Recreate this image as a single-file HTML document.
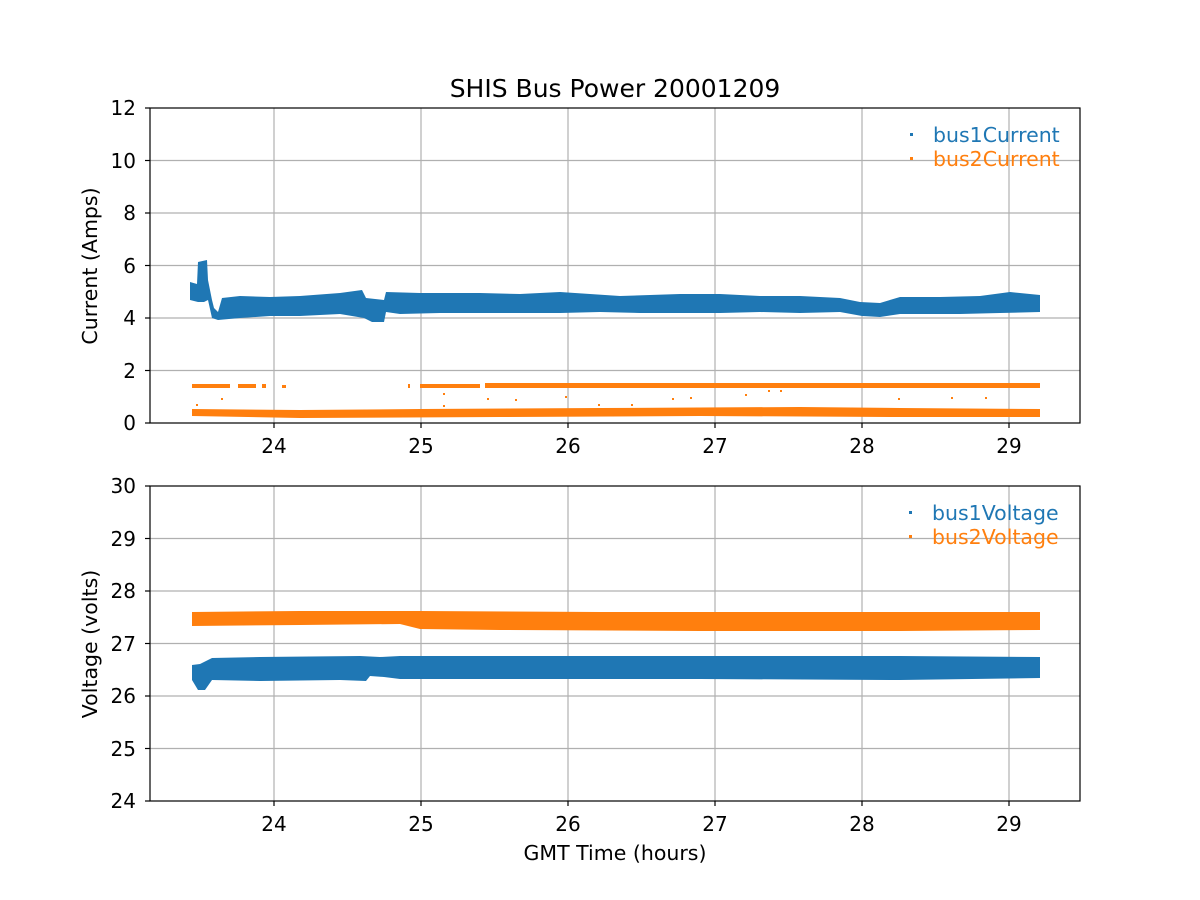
<!DOCTYPE html>
<html><head><meta charset="utf-8"><style>
body{margin:0;background:#fff}
svg{display:block;font-family:"DejaVu Sans","Liberation Sans",sans-serif}
</style></head><body>
<svg width="1200" height="900" viewBox="0 0 1200 900" xmlns="http://www.w3.org/2000/svg">
<rect width="1200" height="900" fill="#fff"/>
<text x="615" y="97" font-size="25" text-anchor="middle">SHIS Bus Power 20001209</text>
<g stroke="#b0b0b0" stroke-width="1.2">
<line x1="274" y1="108" x2="274" y2="423"/><line x1="421" y1="108" x2="421" y2="423"/><line x1="568" y1="108" x2="568" y2="423"/><line x1="715" y1="108" x2="715" y2="423"/><line x1="862" y1="108" x2="862" y2="423"/><line x1="1009" y1="108" x2="1009" y2="423"/>
<line x1="150" y1="370.5" x2="1080" y2="370.5"/><line x1="150" y1="318" x2="1080" y2="318"/><line x1="150" y1="265.5" x2="1080" y2="265.5"/><line x1="150" y1="213" x2="1080" y2="213"/><line x1="150" y1="160.5" x2="1080" y2="160.5"/>
</g>
<g fill="#1f77b4">
<polygon points="190,282 197,284 198,262 207,260 208,280 212,300 214,308 218,312 222,298 240,296 270,297 300,296 340,293 362,290 366,298 384,300 386,292 420,293 480,293 520,294 560,292 620,296 680,294 720,294 760,296 800,296 840,298 860,302 880,303 900,297 940,297 980,296 1010,292 1040,295 1040,312 1000,313 960,314 900,314 880,317 862,316 840,312 800,313 760,312 720,313 680,313 640,313 600,312 560,313 520,313 480,313 440,313 400,314 386,312 384,322 372,322 364,318 340,314 300,316 270,316 240,318 218,320 212,318 208,300 204,302 198,302 190,300"/>
</g>
<g fill="#ff7f0e">
<polygon points="192,409 300,410 420,409 600,408 800,407 900,408 1040,409 1040,417 900,417 700,416 500,417 300,418 192,416"/>
<rect x="192" y="384" width="38" height="4"/>
<rect x="238" y="384" width="18" height="4"/><rect x="262" y="384" width="4" height="4"/><rect x="282" y="385" width="4" height="3"/>
<rect x="408" y="384" width="2" height="4"/>
<rect x="420" y="384" width="60" height="4"/>
<rect x="485" y="383" width="555" height="5"/>
<rect x="221" y="398" width="2" height="2"/><rect x="443" y="393" width="2" height="2"/><rect x="443" y="405" width="2" height="2"/><rect x="487" y="398" width="2" height="2"/><rect x="515" y="399" width="2" height="2"/><rect x="565" y="396" width="2" height="2"/><rect x="598" y="404" width="2" height="2"/><rect x="631" y="404" width="2" height="2"/><rect x="672" y="398" width="2" height="2"/><rect x="690" y="397" width="2" height="2"/><rect x="745" y="394" width="2" height="2"/><rect x="768" y="390" width="2" height="2"/><rect x="780" y="390" width="2" height="2"/><rect x="898" y="398" width="2" height="2"/><rect x="951" y="397" width="2" height="2"/><rect x="985" y="397" width="2" height="2"/><rect x="196" y="404" width="2" height="2"/>
</g>
<rect x="150" y="108" width="930" height="315" fill="none" stroke="#000" stroke-width="1.2"/>
<g stroke="#000" stroke-width="1.2">
<line x1="274" y1="423" x2="274" y2="428"/><line x1="421" y1="423" x2="421" y2="428"/><line x1="568" y1="423" x2="568" y2="428"/><line x1="715" y1="423" x2="715" y2="428"/><line x1="862" y1="423" x2="862" y2="428"/><line x1="1009" y1="423" x2="1009" y2="428"/>
<line x1="145" y1="423" x2="150" y2="423"/><line x1="145" y1="370.5" x2="150" y2="370.5"/><line x1="145" y1="318" x2="150" y2="318"/><line x1="145" y1="265.5" x2="150" y2="265.5"/><line x1="145" y1="213" x2="150" y2="213"/><line x1="145" y1="160.5" x2="150" y2="160.5"/><line x1="145" y1="108" x2="150" y2="108"/>
</g>
<g font-size="20" text-anchor="middle">
<text x="274" y="453">24</text><text x="421" y="453">25</text><text x="568" y="453">26</text><text x="715" y="453">27</text><text x="862" y="453">28</text><text x="1009" y="453">29</text>
</g>
<g font-size="20" text-anchor="end">
<text x="136" y="430">0</text><text x="136" y="378">2</text><text x="136" y="325">4</text><text x="136" y="273">6</text><text x="136" y="220">8</text><text x="136" y="168">10</text><text x="136" y="115">12</text>
</g>
<text transform="translate(97,266) rotate(-90)" font-size="20.5" text-anchor="middle">Current (Amps)</text>
<rect x="910" y="133" width="3" height="3" fill="#1f77b4"/><text x="933" y="142" font-size="20.5" fill="#1f77b4">bus1Current</text>
<rect x="910" y="157" width="3" height="3" fill="#ff7f0e"/><text x="933" y="166" font-size="20.5" fill="#ff7f0e">bus2Current</text>

<g stroke="#b0b0b0" stroke-width="1.2">
<line x1="274" y1="486" x2="274" y2="801"/><line x1="421" y1="486" x2="421" y2="801"/><line x1="568" y1="486" x2="568" y2="801"/><line x1="715" y1="486" x2="715" y2="801"/><line x1="862" y1="486" x2="862" y2="801"/><line x1="1009" y1="486" x2="1009" y2="801"/>
<line x1="150" y1="748.5" x2="1080" y2="748.5"/><line x1="150" y1="696" x2="1080" y2="696"/><line x1="150" y1="643.5" x2="1080" y2="643.5"/><line x1="150" y1="591" x2="1080" y2="591"/><line x1="150" y1="538.5" x2="1080" y2="538.5"/>
</g>
<g fill="#ff7f0e">
<polygon points="192,612 300,611 420,611 600,612 800,612 1040,612 1040,630 900,631 700,631 500,630 420,629 400,624 300,625 192,626"/>
</g>
<g fill="#1f77b4">
<polygon points="192,665 200,664 212,658 260,657 360,656 380,657 400,656 500,656 700,656 900,656 1040,657 1040,678 900,680 700,679 500,679 400,679 384,677 370,676 366,681 340,680 260,681 212,680 205,690 198,690 192,680"/>
</g>
<rect x="150" y="486" width="930" height="315" fill="none" stroke="#000" stroke-width="1.2"/>
<g stroke="#000" stroke-width="1.2">
<line x1="274" y1="801" x2="274" y2="806"/><line x1="421" y1="801" x2="421" y2="806"/><line x1="568" y1="801" x2="568" y2="806"/><line x1="715" y1="801" x2="715" y2="806"/><line x1="862" y1="801" x2="862" y2="806"/><line x1="1009" y1="801" x2="1009" y2="806"/>
<line x1="145" y1="801" x2="150" y2="801"/><line x1="145" y1="748.5" x2="150" y2="748.5"/><line x1="145" y1="696" x2="150" y2="696"/><line x1="145" y1="643.5" x2="150" y2="643.5"/><line x1="145" y1="591" x2="150" y2="591"/><line x1="145" y1="538.5" x2="150" y2="538.5"/><line x1="145" y1="486" x2="150" y2="486"/>
</g>
<g font-size="20" text-anchor="middle">
<text x="274" y="831">24</text><text x="421" y="831">25</text><text x="568" y="831">26</text><text x="715" y="831">27</text><text x="862" y="831">28</text><text x="1009" y="831">29</text>
</g>
<g font-size="20" text-anchor="end">
<text x="136" y="808">24</text><text x="136" y="756">25</text><text x="136" y="703">26</text><text x="136" y="651">27</text><text x="136" y="598">28</text><text x="136" y="546">29</text><text x="136" y="493">30</text>
</g>
<text transform="translate(97,644) rotate(-90)" font-size="20.5" text-anchor="middle">Voltage (volts)</text>
<text x="615" y="860" font-size="20.5" text-anchor="middle">GMT Time (hours)</text>
<rect x="909" y="511" width="3" height="3" fill="#1f77b4"/><text x="932" y="520" font-size="20.5" fill="#1f77b4">bus1Voltage</text>
<rect x="909" y="535" width="3" height="3" fill="#ff7f0e"/><text x="932" y="544" font-size="20.5" fill="#ff7f0e">bus2Voltage</text>
</svg>
</body></html>
